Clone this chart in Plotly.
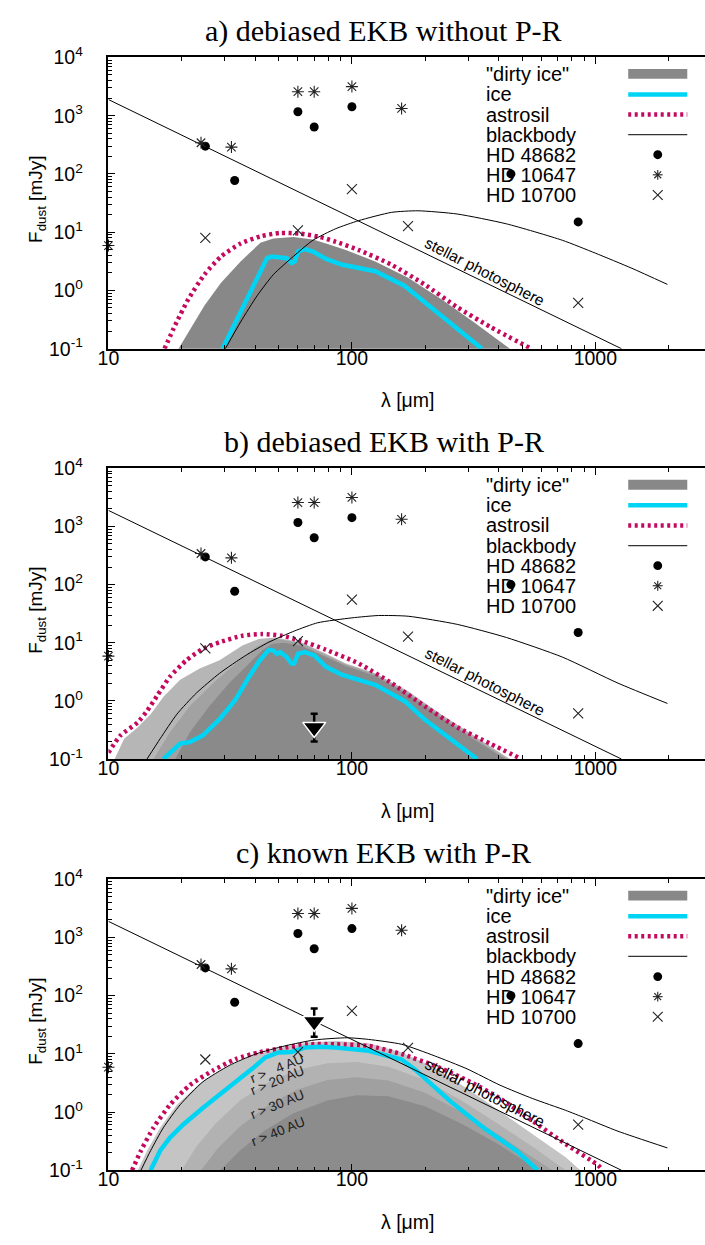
import plotly.graph_objects as go

W, H = 705, 1245

# ---------------- data ----------------
# observed photometry, identical in all three panels
hd48682_lam = [25, 33, 60, 70, 100, 450, 850]
hd48682_F = [300, 77, 1170, 640, 1420, 100, 15]
hd10647_lam = [10, 24, 32, 60, 70, 100, 160]
hd10647_F = [5.9, 343, 289, 2580, 2580, 3160, 1330]
hd10700_lam = [25, 60, 100, 170, 850]
hd10700_F = [8.0, 10.7, 55, 12.7, 0.61]

# stellar photosphere (straight line in log-log)
phot_lam = [10, 1280]
phot_F = [1890, 0.1]

# upper limits (triangles with error bars)
ul_b_lam = [70]; ul_b_F = [0.35]; ul_b_up = [0.25]; ul_b_dn = [0.15]
ul_c_lam = [70]; ul_c_F = [36]; ul_c_up = [24]; ul_c_dn = [16.4]

# ---- panel a: debiased EKB without P-R
a_dirty_lam = [19.4, 21.3, 24.8, 29.0, 34.9, 42.1, 47.6, 57.4, 69.2, 78.3, 94.4, 124.7, 170.2, 232.3, 316.2, 445.7]
a_dirty_F = [0.1, 0.195, 0.551, 1.358, 3.15, 6.58, 7.78, 8.30, 7.48, 6.40, 4.94, 3.15, 1.648, 0.711, 0.288, 0.1]
a_astro_lam = [17.0, 18.8, 21.3, 24.8, 29.0, 34.9, 42.1, 50.7, 61.1, 73.6, 85.9, 106.7, 145.5, 198.6, 271, 370, 545]
a_astro_F = [0.1, 0.254, 0.711, 1.875, 3.82, 6.40, 8.49, 9.70, 9.44, 8.30, 6.84, 4.94, 2.76, 1.27, 0.515, 0.237, 0.1]
a_ice_lam = [29.4, 32.8, 37.2, 41.4, 44.8, 46.9, 50.7, 54.0, 56.5, 58.2, 60.1, 64.0, 69.2, 78.3, 91.4, 124.7, 164.8, 198.6, 271, 342]
a_ice_F = [0.1, 0.254, 0.711, 1.762, 3.58, 3.82, 3.72, 3.58, 2.95, 3.15, 4.65, 5.14, 4.65, 3.47, 2.76, 2.14, 1.194, 0.625, 0.222, 0.1]
a_bb_lam = [30.2, 34.9, 40.8, 47.6, 57.4, 69.2, 85.9, 106.7, 145.5, 186.6, 271, 431.5, 731, 1000, 1413, 1977]
a_bb_F = [0.1, 0.288, 0.811, 1.875, 3.82, 7.28, 11.5, 15.8, 21.9, 23.3, 20.5, 13.9, 7.28, 4.37, 2.4, 1.27]

# ---- panel b: debiased EKB with P-R
b_dl_lam = [10.6, 11.6, 13.2, 14.9, 16.9, 19.7, 23.7, 28.6, 35.5, 41.4, 48.3, 61.9, 78.3, 94.4, 124.7, 170.2, 232.3, 316.2, 445.7]
b_dl_F = [0.1, 0.223, 0.352, 0.59, 1.20, 2.30, 3.61, 4.99, 8.93, 11.6, 12.3, 10.2, 6.47, 4.40, 2.98, 1.46, 0.59, 0.254, 0.1]
b_dm_lam = [15.3, 17.9, 21.6, 26.9, 33.3, 40.2, 45.5, 50.1, 61.9, 78.3, 94.4, 124.7, 170.2, 232.3, 316.2, 436.5]
b_dm_F = [0.1, 0.29, 0.815, 2.02, 4.40, 8.36, 10.8, 11.5, 9.77, 6.17, 4.22, 2.85, 1.38, 0.55, 0.234, 0.1]
b_dd_lam = [18.8, 21.6, 26.0, 31.3, 37.8, 42.8, 46.9, 52.5, 61.9, 78.3, 94.4, 124.7, 170.2, 232.3, 316.2, 426.6]
b_dd_F = [0.1, 0.29, 0.815, 2.02, 4.40, 7.36, 9.55, 10.0, 8.91, 5.75, 3.98, 2.69, 1.29, 0.513, 0.219, 0.1]
b_astro_lam = [10, 11.2, 13.2, 14.4, 15.8, 17.9, 20.9, 24.4, 28.6, 35.5, 42.8, 51.5, 61.9, 78.3, 106.7, 145.5, 198.6, 271, 370, 497]
b_astro_F = [0.129, 0.254, 0.428, 0.67, 1.20, 2.61, 4.99, 7.85, 10.2, 13.2, 14.1, 13.2, 10.8, 7.57, 4.40, 2.02, 0.815, 0.352, 0.184, 0.1]
b_ice_lam = [16.8, 17.9, 19.7, 21.6, 24.4, 28.6, 33.3, 37.8, 41.4, 45.5, 47.6, 49.1, 50.7, 54.0, 56.5, 57.9, 60.1, 64.0, 70.1, 78.3, 91.4, 124.7, 164.8, 198.6, 254.7, 326.6]
b_ice_F = [0.1, 0.125, 0.184, 0.196, 0.254, 0.485, 1.057, 2.61, 4.68, 7.57, 7.36, 6.47, 6.89, 5.68, 4.40, 4.40, 6.47, 6.89, 6.05, 3.85, 2.79, 1.89, 0.989, 0.485, 0.223, 0.1]
b_bb_lam = [14.4, 16.3, 19.1, 23.0, 28.6, 36.6, 45.5, 58.2, 72.4, 100, 128.5, 170.2, 271, 431.5, 731, 1239, 1977]
b_bb_F = [0.1, 0.223, 0.59, 1.371, 2.98, 6.05, 10.2, 16.0, 22.1, 26.8, 29.4, 28.6, 20.7, 12.3, 5.68, 2.02, 0.904]

# ---- panel c: known EKB with P-R
c_r4_lam = [13.2, 14.4, 16.3, 19.1, 23.7, 30.3, 38.9, 51.5, 66.1, 85.9, 117.2, 160, 217.8, 297.2, 405.5, 553.4, 755.1, 867]
c_r4_F = [0.1, 0.217, 0.537, 1.334, 3.08, 5.90, 9.29, 12.8, 15.6, 16.6, 15.2, 10.6, 5.90, 2.54, 1.03, 0.416, 0.167, 0.1]
c_r20_lam = [20.0, 22.9, 27.5, 34.7, 44.7, 58.9, 79.4, 104.7, 141.3, 199.5, 281.8, 398.1, 562.3, 755]
c_r20_F = [0.1, 0.251, 0.631, 1.585, 3.16, 5.25, 6.92, 7.24, 6.03, 3.55, 1.585, 0.631, 0.24, 0.1]
c_r30_lam = [24.0, 28.2, 34.7, 44.7, 58.9, 79.4, 104.7, 141.3, 199.5, 281.8, 398.1, 524.8, 666.8]
c_r30_F = [0.1, 0.24, 0.562, 1.259, 2.40, 3.55, 3.98, 3.47, 2.14, 1.0, 0.417, 0.19, 0.1]
c_r40_lam = [28.8, 34.7, 43.7, 57.5, 79.4, 104.7, 141.3, 199.5, 281.8, 398.1, 588.8]
c_r40_F = [0.1, 0.219, 0.479, 0.955, 1.585, 1.95, 1.862, 1.259, 0.631, 0.282, 0.1]
c_astro_lam = [12.5, 13.6, 15.3, 17.9, 21.6, 26.9, 33.3, 41.4, 53.1, 66.1, 85.9, 117.2, 160, 217.8, 297.2, 405.5, 553.4, 755.1, 1028, 1072]
c_astro_F = [0.1, 0.217, 0.537, 1.334, 2.90, 5.19, 8.15, 10.6, 12.8, 14.6, 14.6, 13.7, 9.91, 6.30, 3.52, 1.72, 0.697, 0.282, 0.121, 0.1]
c_ice_lam = [14.9, 16.3, 17.9, 20.3, 24.4, 28.6, 33.3, 38.9, 44.1, 49.9, 56.5, 64.0, 74.6, 85.9, 117.2, 160, 183, 254.7, 347.5, 474.2, 579.4]
c_ice_F = [0.1, 0.217, 0.365, 0.612, 1.17, 1.963, 3.30, 5.52, 8.69, 10.6, 10.8, 12.8, 13.2, 12.8, 11.3, 8.0, 5.25, 1.51, 0.537, 0.217, 0.1]
c_bb_lam = [13.6, 14.9, 16.8, 19.7, 24.4, 31.3, 40.2, 53.1, 70.1, 95.7, 117.2, 160, 217.8, 297.2, 405.5, 553.4, 755.1, 908, 1239, 1977]
c_bb_F = [0.1, 0.217, 0.537, 1.334, 3.30, 6.30, 9.91, 13.7, 17.3, 18.9, 17.7, 14.6, 9.29, 5.52, 2.90, 1.70, 1.07, 0.79, 0.468, 0.242]

titles = ["a) debiased EKB without P-R", "b) debiased EKB with P-R", "c) known EKB with P-R"]
legend_labels = ['"dirty ice"', "ice", "astrosil", "blackbody", "HD 48682", "HD 10647", "HD 10700"]
region_labels = ["r >\u00a0\u00a0\u00a04 AU", "r > 20 AU", "r > 30 AU", "r > 40 AU"]
x_tickvals = [10, 100, 1000]
x_ticktext = ["10", "100", "1000"]
y_tickvals = [0.1, 1, 10, 100, 1000, 10000]
y_ticktext = ["10<sup>-1</sup>", "10<sup>0</sup>", "10<sup>1</sup>", "10<sup>2</sup>",
              "10<sup>3</sup>", "10<sup>4</sup>"]

# ---------------- style ----------------
CYAN = "#00d4f4"
MAG = "#c40a5e"
MK = "#222222"
SANS = "Liberation Sans, Arial, sans-serif"
SERIF = "Liberation Serif, Times New Roman, serif"
FLOOR = 0.01

LEFT = 99
TOPS = [45.3, 464.3, 883.3]
BOTS = [342.3, 760.7, 1180.0]


def PX(x):
    return x / W


def PY(y):
    return 1 - y / H


fig = go.Figure()


def axn(i):
    return "" if i == 0 else str(i + 1)


def fill(lam, F, color, i):
    fig.add_trace(go.Scatter(
        x=list(lam) + [lam[-1], lam[0]], y=list(F) + [FLOOR, FLOOR],
        mode="lines", fill="toself", fillcolor=color, line=dict(width=0, color=color),
        xaxis="x" + axn(i), yaxis="y" + axn(i), hoverinfo="skip", showlegend=False))


def line(lam, F, i, color, width, dash="solid", shape="spline"):
    fig.add_trace(go.Scatter(
        x=lam, y=F, mode="lines", line=dict(color=color, width=width, dash=dash, shape=shape,
                                            smoothing=0.6),
        xaxis="x" + axn(i), yaxis="y" + axn(i), hoverinfo="skip", showlegend=False))


def points(i):
    xa, ya = "x" + axn(i), "y" + axn(i)
    fig.add_trace(go.Scatter(x=hd48682_lam, y=hd48682_F, mode="markers", cliponaxis=False,
                             marker=dict(symbol="circle", size=9, color="black"),
                             xaxis=xa, yaxis=ya, showlegend=False))
    fig.add_trace(go.Scatter(x=hd10647_lam, y=hd10647_F, mode="markers", cliponaxis=False,
                             marker=dict(symbol="asterisk-open", size=10, color=MK,
                                         line=dict(color=MK, width=1.1)),
                             xaxis=xa, yaxis=ya, showlegend=False))
    fig.add_trace(go.Scatter(x=hd10700_lam, y=hd10700_F, mode="markers", cliponaxis=False,
                             marker=dict(symbol="x-thin-open", size=10, color=MK,
                                         line=dict(color=MK, width=1.1)),
                             xaxis=xa, yaxis=ya, showlegend=False))


def upper(lam, F, up, dn, i):
    fig.add_trace(go.Scatter(
        x=lam, y=F, mode="markers", cliponaxis=False,
        marker=dict(symbol="triangle-down", size=20, color="black",
                    line=dict(color="white", width=1.5)),
        error_y=dict(type="data", array=up, arrayminus=dn, color="black", thickness=2.5, width=3.5),
        xaxis="x" + axn(i), yaxis="y" + axn(i), showlegend=False))


# panel a
fill(a_dirty_lam, a_dirty_F, "#888888", 0)
line(a_astro_lam, a_astro_F, 0, MAG, 4.5, "3px,3.5px")
line(a_ice_lam, a_ice_F, 0, CYAN, 4.5, shape="linear")
line(a_bb_lam, a_bb_F, 0, "black", 1)
line(phot_lam, phot_F, 0, "black", 1, shape="linear")
points(0)

# panel b
fill(b_dl_lam, b_dl_F, "#b6b6b6", 1)
fill(b_dm_lam, b_dm_F, "#a2a2a2", 1)
fill(b_dd_lam, b_dd_F, "#8a8a8a", 1)
line(b_astro_lam, b_astro_F, 1, MAG, 4.5, "3px,3.5px")
line(b_ice_lam, b_ice_F, 1, CYAN, 4.5, shape="linear")
line(b_bb_lam, b_bb_F, 1, "black", 1)
line(phot_lam, phot_F, 1, "black", 1, shape="linear")
points(1)
upper(ul_b_lam, ul_b_F, ul_b_up, ul_b_dn, 1)

# panel c
fill(c_r4_lam, c_r4_F, "#c4c4c4", 2)
fill(c_r20_lam, c_r20_F, "#b2b2b2", 2)
fill(c_r30_lam, c_r30_F, "#a0a0a0", 2)
fill(c_r40_lam, c_r40_F, "#8c8c8c", 2)
line(c_astro_lam, c_astro_F, 2, MAG, 4.5, "3px,3.5px")
line(c_ice_lam, c_ice_F, 2, CYAN, 4.5, shape="linear")
line(c_bb_lam, c_bb_F, 2, "black", 1)
line(phot_lam, phot_F, 2, "black", 1, shape="linear")
points(2)
upper(ul_c_lam, ul_c_F, ul_c_up, ul_c_dn, 2)

# ---------------- axes ----------------
x_minor = [20, 30, 40, 50, 60, 70, 80, 90, 200, 300, 400, 500, 600, 700, 800, 900, 2000]
y_minor = [k * d for d in (0.1, 1, 10, 100, 1000) for k in range(2, 10)]
tickfont = dict(family=SANS, size=19.5, color="black")
layout = dict(width=W, height=H, margin=dict(l=0, r=0, t=0, b=0),
              paper_bgcolor="white", plot_bgcolor="white", showlegend=False)
for i in range(3):
    n = axn(i)
    layout["xaxis" + n] = dict(
        type="log", range=[1, 3.4504], domain=[PX(LEFT), 1], anchor="y" + n,
        showline=True, linecolor="black", linewidth=1.5, mirror="ticks",
        ticks="inside", ticklen=7, tickwidth=1.2, tickcolor="black",
        tickmode="array", tickvals=x_tickvals, ticktext=x_ticktext, tickfont=tickfont,
        ticklabelstandoff=-9,
        minor=dict(tickmode="array", tickvals=x_minor, ticks="inside", ticklen=4,
                   tickwidth=1.2, tickcolor="black", showgrid=False),
        showgrid=False, zeroline=False)
    layout["yaxis" + n] = dict(
        type="log", range=[-1, 4], domain=[PY(BOTS[i]), PY(TOPS[i])], anchor="x" + n,
        showline=True, linecolor="black", linewidth=1.5, mirror=False,
        ticks="inside", ticklen=7, tickwidth=1.2, tickcolor="black",
        tickmode="array", tickvals=y_tickvals, ticktext=y_ticktext, tickfont=tickfont,
        ticklabelstandoff=20,
        minor=dict(tickmode="array", tickvals=y_minor, ticks="inside", ticklen=4,
                   tickwidth=1.2, tickcolor="black", showgrid=False),
        showgrid=False, zeroline=False)

# ---------------- annotations & legend ----------------
ann = []
shapes = []
for i in range(3):
    d = TOPS[i] - TOPS[0]
    n = axn(i)
    ann.append(dict(text=titles[i], x=PX(378.5), y=PY(18.5 + d), xref="paper", yref="paper",
                    xanchor="center", yanchor="middle", showarrow=False,
                    font=dict(family=SERIF, size=30, color="black")))
    ann.append(dict(text="F<sub>dust</sub> [mJy]", x=PX(27), y=PY(190 + d), xref="paper",
                    yref="paper", textangle=-90, xanchor="center", yanchor="middle",
                    showarrow=False, font=dict(family=SANS, size=19, color="black")))
    ann.append(dict(text="λ [μm]", x=PX(403), y=PY(395 + d), xref="paper", yref="paper",
                    xanchor="center", yanchor="middle", showarrow=False,
                    font=dict(family=SANS, size=19.5, color="black")))
    ann.append(dict(text="stellar photosphere", x=2.545, y=0.33, xref="x" + n, yref="y" + n,
                    textangle=27, xanchor="center", yanchor="middle", showarrow=False,
                    font=dict(family=SANS, size=15.5, color="black")))
    rows = [62, 83, 103.5, 124, 144.5, 165, 185.5]
    for lab, ry in zip(legend_labels, rows):
        ann.append(dict(text=lab, x=PX(480), y=PY(ry + d), xref="paper", yref="paper",
                        xanchor="left", yanchor="middle", showarrow=False,
                        font=dict(family=SANS, size=20, color="black")))
    x0, x1, xc = PX(627), PX(687), 657
    shapes.append(dict(type="rect", xref="paper", yref="paper", x0=x0, x1=x1,
                       y0=PY(rows[0] + 5 + d), y1=PY(rows[0] - 5 + d),
                       fillcolor="#888888", line=dict(width=0)))
    shapes.append(dict(type="line", xref="paper", yref="paper", x0=x0, x1=x1,
                       y0=PY(rows[1] + d), y1=PY(rows[1] + d), line=dict(color=CYAN, width=4.5)))
    shapes.append(dict(type="line", xref="paper", yref="paper", x0=x0, x1=x1,
                       y0=PY(rows[2] + d), y1=PY(rows[2] + d),
                       line=dict(color=MAG, width=4.5, dash="3px,3.5px")))
    shapes.append(dict(type="line", xref="paper", yref="paper", x0=x0, x1=x1,
                       y0=PY(rows[3] + d), y1=PY(rows[3] + d), line=dict(color="#333333", width=1.2)))
    r = 4.5
    yc = rows[4] + d
    shapes.append(dict(type="circle", xref="paper", yref="paper", x0=PX(xc - r), x1=PX(xc + r),
                       y0=PY(yc + r), y1=PY(yc - r), fillcolor="black", line=dict(width=0)))
    yc = rows[5] + d
    for dx, dy in [(0, 5), (5, 0), (3.5, 3.5), (3.5, -3.5)]:
        shapes.append(dict(type="line", xref="paper", yref="paper", x0=PX(xc - dx), x1=PX(xc + dx),
                           y0=PY(yc - dy), y1=PY(yc + dy), line=dict(color=MK, width=1.1)))
    yc = rows[6] + d
    for dx, dy in [(5, 5), (5, -5)]:
        shapes.append(dict(type="line", xref="paper", yref="paper", x0=PX(xc - dx), x1=PX(xc + dx),
                           y0=PY(yc - dy), y1=PY(yc + dy), line=dict(color=MK, width=1.1)))

# region labels in panel c (log coordinates)
for lab, lx, ly in zip(region_labels, [1.694, 1.694, 1.694, 1.698], [0.742, 0.546, 0.125, -0.342]):
    ann.append(dict(text=lab, x=lx, y=ly, xref="x3", yref="y3", textangle=-22,
                    xanchor="center", yanchor="middle", showarrow=False,
                    font=dict(family=SANS, size=13.5, color="#1a1a1a")))

layout["annotations"] = ann
layout["shapes"] = shapes
fig.update_layout(**layout)
fig.write_html("out.html")
